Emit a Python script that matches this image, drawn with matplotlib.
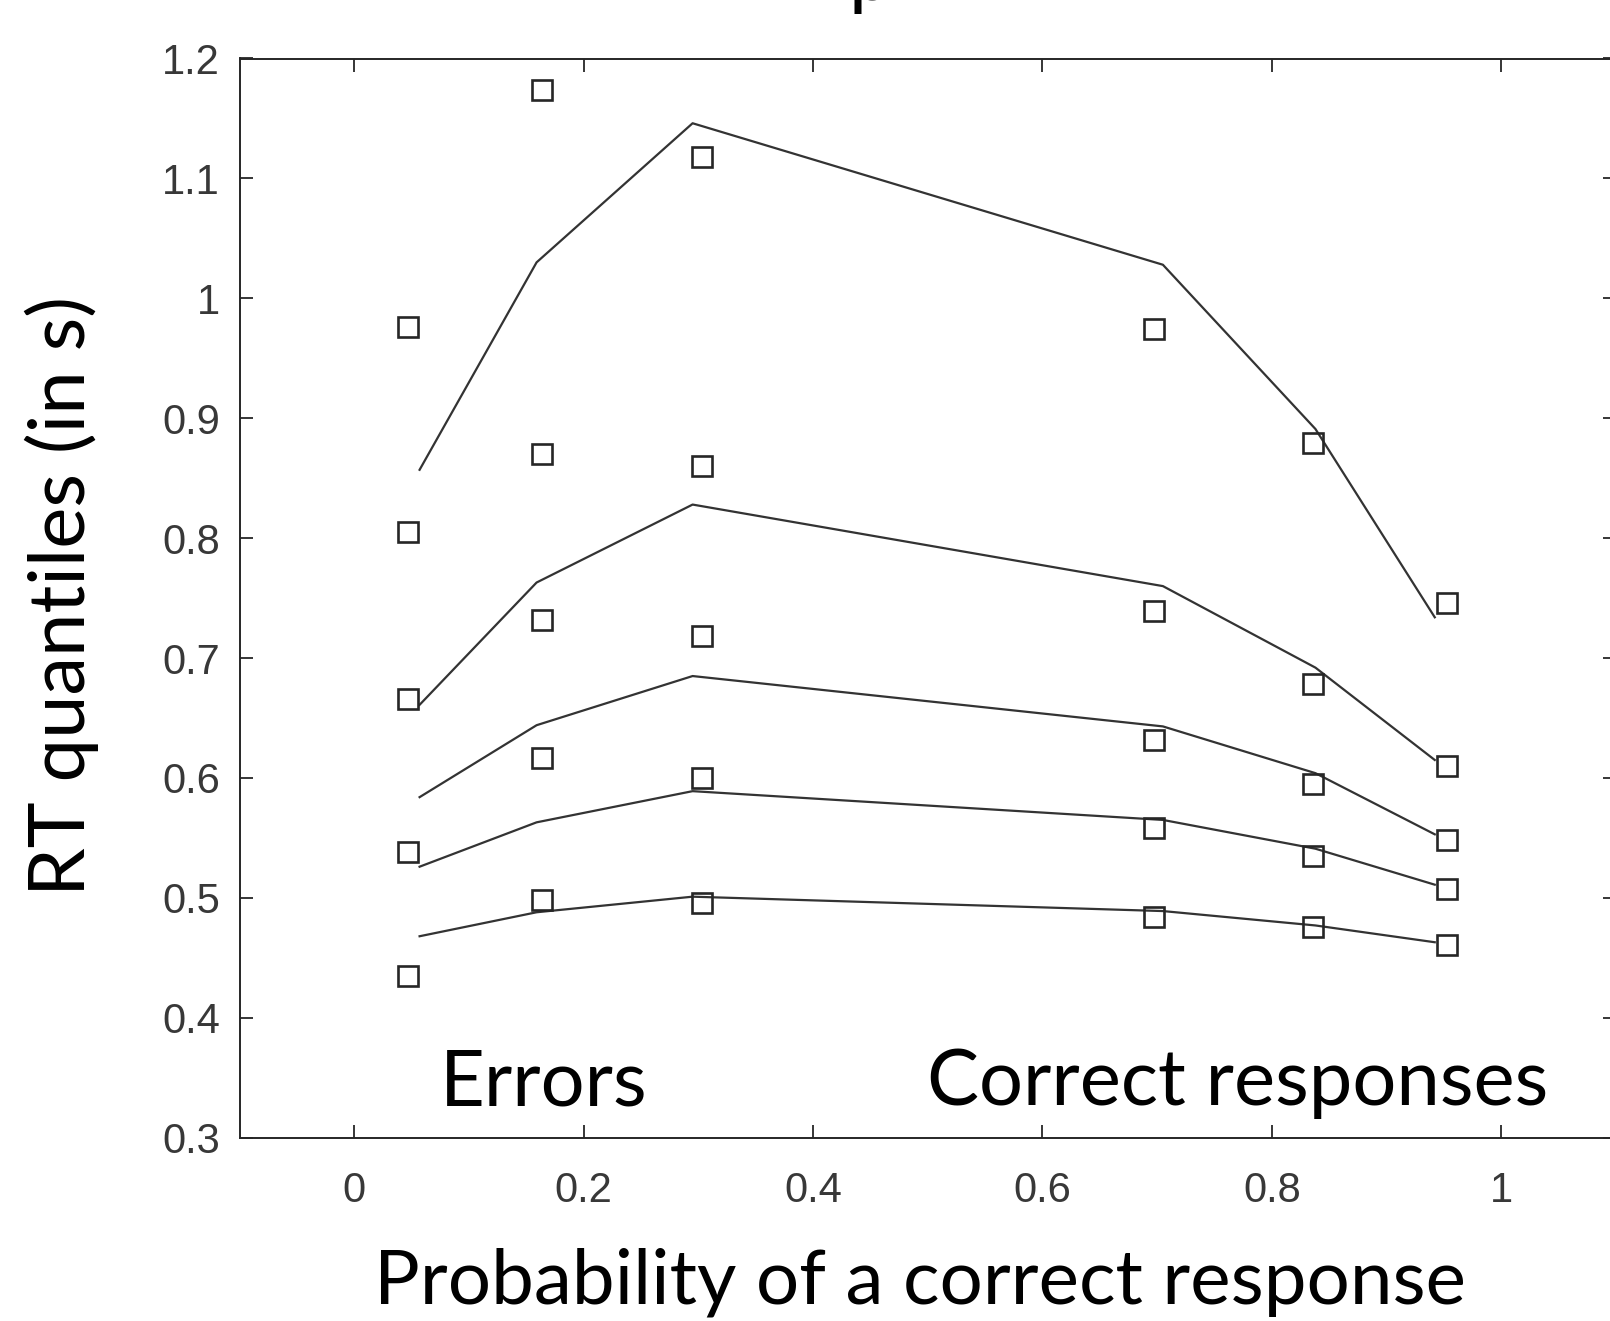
import matplotlib
matplotlib.use("Agg")
import matplotlib.pyplot as plt

# observed RT quantiles (0.1 .3 .5 .7 .9), errors on the left, corrects on the right
p_obs = [0.047, 0.164, 0.303, 0.697, 0.836, 0.953]
q_obs = [
    [0.435, 0.498, 0.496, 0.484, 0.476, 0.461],
    [0.538, 0.617, 0.600, 0.558, 0.535, 0.507],
    [0.666, 0.732, 0.718, 0.632, 0.595, 0.548],
    [0.805, 0.870, 0.860, 0.739, 0.678, 0.610],
    [0.976, 1.174, 1.118, 0.974, 0.879, 0.746],
]

# model predictions
p_fit = [0.057, 0.159, 0.295, 0.705, 0.838, 0.942]
q_fit = [
    [0.468, 0.488, 0.501, 0.489, 0.477, 0.463],
    [0.526, 0.563, 0.589, 0.565, 0.541, 0.511],
    [0.584, 0.644, 0.685, 0.643, 0.604, 0.553],
    [0.661, 0.763, 0.828, 0.760, 0.692, 0.615],
    [0.857, 1.030, 1.146, 1.028, 0.891, 0.734],
]

xticks = [0, 0.2, 0.4, 0.6, 0.8, 1]
xtick_labels = ["0", "0.2", "0.4", "0.6", "0.8", "1"]
yticks = [0.3, 0.4, 0.5, 0.6, 0.7, 0.8, 0.9, 1.0, 1.1, 1.2]
ytick_labels = ["0.3", "0.4", "0.5", "0.6", "0.7", "0.8", "0.9", "1", "1.1", "1.2"]

ink = "#262626"
tickfont = "Liberation Sans"
bigfont = ["Lato", "DejaVu Sans"]

fig = plt.figure(figsize=(16.1, 13.21), dpi=100)
ax = fig.add_axes([239.5 / 1610, 1 - 1137.7 / 1321, (1616 - 239.5) / 1610, (1137.7 - 58.5) / 1321])

for q in q_fit:
    ax.plot(p_fit, q, color="#333333", lw=1.6, zorder=2)
for q in q_obs:
    ax.plot(p_obs, q, ls="none", marker="s", ms=14.5, mfc="none", mec=ink, mew=1.9, zorder=3)

ax.set_xlim(-0.1, 1.1)
ax.set_ylim(0.3, 1.2)
ax.set_xticks(xticks)
ax.set_xticklabels(xtick_labels)
ax.set_yticks(yticks)
ax.set_yticklabels(ytick_labels)
ax.tick_params(direction="in", length=9.5, width=1.3, color=ink, top=True, right=True,
               labelsize=30, labelcolor="#383838")
ax.tick_params(axis="x", pad=24)
ax.tick_params(axis="y", pad=14)
for lab in ax.get_xticklabels() + ax.get_yticklabels():
    lab.set_family(tickfont)
for s in ax.spines.values():
    s.set_color(ink)
    s.set_linewidth(1.4)

ax.text(0.165, 0.345, "Errors", ha="center", va="center", fontsize=56, family=bigfont)
ax.text(0.770, 0.345, "Correct responses", ha="center", va="center", fontsize=56, family=bigfont)

fig.text(920 / 1610, 1 - 1282 / 1321, "Probability of a correct response",
         ha="center", va="center", fontsize=55, family=bigfont)
fig.text(62 / 1610, 1 - 596 / 1321, "RT quantiles (in s)", ha="center", va="center",
         rotation=90, fontsize=56, family=bigfont)
fig.text(870 / 1610, 1.0, "p", ha="center", va="baseline", fontsize=56, family=bigfont)

fig.savefig("out.png", dpi=100)
